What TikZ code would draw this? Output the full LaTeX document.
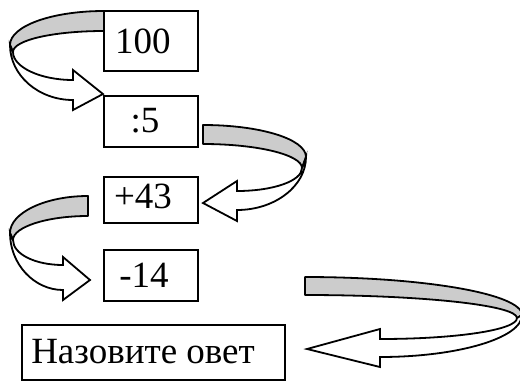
\documentclass[tikz,border=0pt]{standalone}
\usepackage{fontspec}
\setmainfont{Liberation Serif}
\usepackage{tikz}
\tikzset{
  box/.style={draw,line width=1pt,inner sep=0pt},
  txt/.style={font=\fontsize{18.5}{20}\selectfont,inner sep=0pt,anchor=base},
  back/.style={draw,fill=black!20,line width=0.9pt,line join=round},
  front/.style={draw,fill=white,line width=0.9pt,line join=miter}
}
\begin{document}
\begin{tikzpicture}[x=0.5pt,y=-0.5pt]
			\useasboundingbox (0,0) rectangle (520,381);
			\node[box,minimum width=47pt,minimum height=30pt](b100) at (151,41){};
			\node[box,minimum width=47pt,minimum height=25.5pt](b5) at (151,121.5){};
			\node[box,minimum width=47pt,minimum height=23pt](b43) at (151,200){};
			\node[box,minimum width=47pt,minimum height=25.5pt](b14) at (151,275.5){};
			\node[box,minimum width=131.5pt,minimum height=27.5pt](bans) at (153.5,352.5){};
			\node[txt](t100) at (143,53){100};
			\node[txt](t5) at (145,132){:5};
			\node[txt](t43) at (143,208){+43};
			\node[txt](t14) at (144,287){-14};
			\node[txt](tans) at (143,363){Назовите овет};
			% 100 -> :5
			\draw[back](104,11) ..controls (52,11) and (10,26).. (10,45)
			--(13,52) ..controls (13,40) and (54,31).. (104,31)--cycle;
			\draw[front](10,45) ..controls (10,75) and (38,100).. (73,100)
			--(73,110)--(103,94)--(73,70)--(73,80)
			..controls (40,80) and (13,67).. (13,52)--cycle;
			% :5 -> +43
			\draw[back](203,125) ..controls (260,125) and (306,139).. (306,157)
			--(302,168) ..controls (302,155) and (258,144).. (203,144)--cycle;
			\draw[front](306,157) ..controls (306,186) and (275,210).. (237,210)
			--(237,221)--(203,203)--(237,181)--(237,191)
			..controls (273,191) and (302,181).. (302,168)--cycle;
			% +43 -> -14
			\draw[back](88,196) ..controls (45,196) and (10,213).. (10,233)
			--(13,240) ..controls (13,227) and (47,216).. (88,216)--cycle;
			\draw[front](10,233) ..controls (10,264) and (34,290).. (63,290)
			--(63,300)--(90,280)--(63,257)--(63,265)
			..controls (35,265) and (13,254).. (13,240)--cycle;
			% -14 -> answer
			\draw[back](305,277) ..controls (425,277) and (522,294).. (522,315)
			--(517,318) ..controls (517,305) and (420,295).. (305,295)--cycle;
			\draw[front](522,315) ..controls (522,338) and (458,357).. (380,357)
			--(380,367)--(307,349)--(380,329)--(380,339)
			..controls (456,339) and (517,330).. (517,318)--cycle;
		\end{tikzpicture}
\end{document}
